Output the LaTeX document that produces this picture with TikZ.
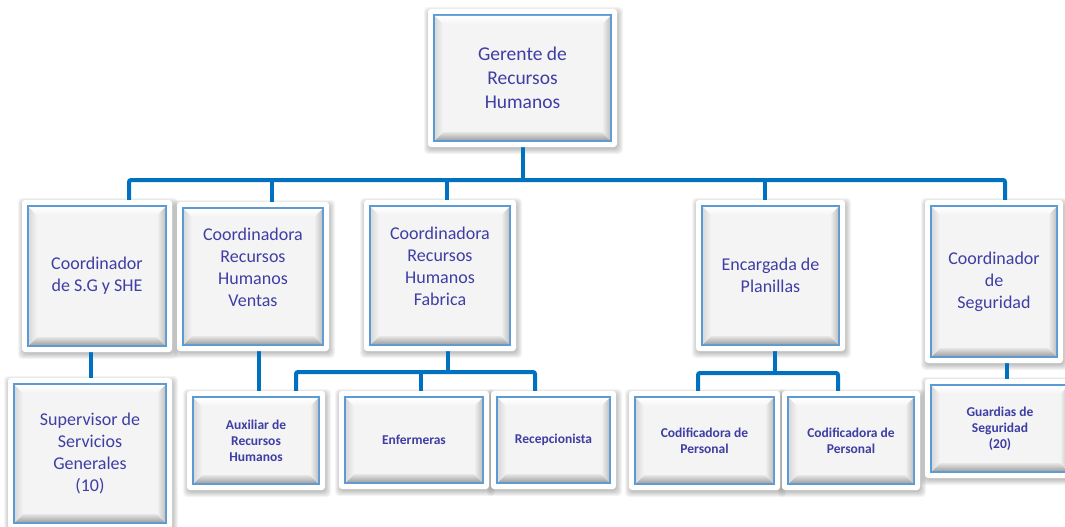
\documentclass[tikz,border=0pt]{standalone}
\usepackage{fontspec}
\setmainfont{Carlito}
\usetikzlibrary{backgrounds}

\definecolor{linkblue}{HTML}{0070C0}
\definecolor{edgeblue}{HTML}{5B9BD5}
\definecolor{cardfill}{HTML}{F4F4F4}
\definecolor{txtblue}{RGB}{62,62,165}
\definecolor{bevlight}{HTML}{E6E6E6}
\definecolor{bevdark}{HTML}{A2A2A2}
\definecolor{bevside}{HTML}{C2C2C2}
\definecolor{bevleft}{HTML}{DADADA}

\pgfdeclarelayer{shade}
\pgfdeclarelayer{links}
\pgfdeclarelayer{frames}
\pgfsetlayers{shade,links,frames,main}

\tikzset{
  conn/.style={draw=linkblue, line width=4pt, rounded corners=2pt},
  softshadow/.style={fill=black, opacity=0.045, rounded corners=4pt},
  cardframe/.style={fill=white, rounded corners=3pt},
  cardbox/.style={draw=edgeblue, line width=1.4pt, fill=cardfill,
      inner sep=0pt, outer sep=0pt},
  bigtxt/.style={text=txtblue, align=center, inner sep=0pt,
      font=\fontsize{19.5}{24}\selectfont},
  midtxt/.style={text=txtblue, align=center, inner sep=0pt,
      font=\fontsize{18}{22}\selectfont},
  smalltxt/.style={text=txtblue, align=center, inner sep=0pt,
      font=\bfseries\fontsize{13.5}{16}\selectfont},
}

% bevelled edge inside a card
\newcommand\bevelbox[1]{%
  \shade[top color=bevlight, bottom color=bevdark]
    ([shift={(1,-1)}]#1.south west) -- ([shift={(-1,-1)}]#1.south east)
    -- ([shift={(-9,-9)}]#1.south east) -- ([shift={(9,-9)}]#1.south west) -- cycle;
  \shade[left color=cardfill, right color=bevside]
    ([shift={(-1,-1)}]#1.south east) -- ([shift={(-1,1)}]#1.north east)
    -- ([shift={(-9,9)}]#1.north east) -- ([shift={(-9,-9)}]#1.south east) -- cycle;
  \shade[left color=bevleft, right color=cardfill]
    ([shift={(1,-1)}]#1.south west) -- ([shift={(1,1)}]#1.north west)
    -- ([shift={(9,9)}]#1.north west) -- ([shift={(9,-9)}]#1.south west) -- cycle;
  \shade[top color=white, bottom color=cardfill]
    ([shift={(1,1)}]#1.north west) -- ([shift={(-1,1)}]#1.north east)
    -- ([shift={(-9,9)}]#1.north east) -- ([shift={(9,9)}]#1.north west) -- cycle;
}

% card: name, cx, cy, width, height, text offset, text style, text
\newcommand\card[8]{%
  \begin{pgfonlayer}{shade}
    \foreach \s in {1,...,6}{%
      \fill[softshadow]
        ({#2-#4/2-6-\s+2},{#3-#5/2-6-\s+4}) rectangle ({#2+#4/2+6+\s},{#3+#5/2+6+\s+1});
    }
  \end{pgfonlayer}
  \begin{pgfonlayer}{frames}
    \fill[cardframe]
      ({#2-#4/2-6},{#3-#5/2-6}) rectangle ({#2+#4/2+6},{#3+#5/2+6});
  \end{pgfonlayer}
  \node[cardbox, minimum width=#4, minimum height=#5] (#1) at (#2,#3) {};
  \bevelbox{#1}
  \node[#7] (#1-t) at (#2,{#3+#6}) {#8};
}

\begin{document}
\begin{tikzpicture}[x=1pt,y=-1pt]
\useasboundingbox (0,0) rectangle (1065,527);

% top
\card{ger}{522.5}{78}{177}{126}{0}{bigtxt}{Gerente de\\Recursos\\Humanos}
% second row
\card{c1}{97}{276}{138}{140}{0}{midtxt}{Coordinador\\de S.G y SHE}
\card{c2}{253}{276.5}{140}{137}{-9}{midtxt}{Coordinadora\\Recursos\\Humanos\\Ventas}
\card{c3}{440}{275.5}{140}{139}{-9}{midtxt}{Coordinadora\\Recursos\\Humanos\\Fabrica}
\card{c4}{770.5}{275.5}{137}{139}{0}{midtxt}{Encargada de\\Planillas}
\card{c5}{994}{281.5}{126}{151}{0}{midtxt}{Coordinador\\de\\Seguridad}
% third row
\card{sup}{90}{453.5}{152}{139}{0}{midtxt}{Supervisor de\\Servicios\\Generales\\(10)}
\card{aux}{256}{440.5}{126}{87}{0}{smalltxt}{Auxiliar de\\Recursos\\Humanos}
\card{enf}{414}{440}{138}{86}{0}{smalltxt}{Enfermeras}
\card{rec}{553.5}{440}{113}{86}{0}{smalltxt}{Recepcionista}
\card{cod1}{704.5}{440.5}{139}{87}{0}{smalltxt}{Codificadora de\\Personal}
\card{cod2}{851}{440.5}{126}{87}{0}{smalltxt}{Codificadora de\\Personal}
\card{gua}{1000}{428.5}{138}{87}{0}{smalltxt}{Guardias de\\Seguridad\\(20)}

\begin{pgfonlayer}{links}
  % main bus
  \coordinate (b1) at (129,180);
  \coordinate (b2) at (272,180);
  \coordinate (b3) at (447,180);
  \coordinate (b4) at (765,180);
  \coordinate (b5) at (1005,180);
  \draw[conn] (ger.south) -- (ger.south |- b1);
  \draw[conn] (c1.north -| b1) -- (b1) -- (b5) -- (c5.north -| b5);
  \draw[conn] (b2) -- (c2.north -| b2);
  \draw[conn] (b3) -- (c3.north -| b3);
  \draw[conn] (b4) -- (c4.north -| b4);
  % single drops
  \coordinate (k1) at (91,365);
  \coordinate (k2) at (259,365);
  \coordinate (k5) at (1007,370);
  \draw[conn] (c1.south -| k1) -- (sup.north -| k1);
  \draw[conn] (c2.south -| k2) -- (aux.north -| k2);
  \draw[conn] (c5.south -| k5) -- (gua.north -| k5);
  % factory branch
  \coordinate (m3) at (448,372);
  \coordinate (m3a) at (296,372);
  \coordinate (m3b) at (421,372);
  \coordinate (m3c) at (535,372);
  \draw[conn] (c3.south -| m3) -- (m3);
  \draw[conn] (aux.north -| m3a) -- (m3a) -- (m3c) -- (rec.north -| m3c);
  \draw[conn] (m3b) -- (enf.north -| m3b);
  % payroll branch
  \coordinate (m4) at (775,373);
  \coordinate (m4a) at (698,373);
  \coordinate (m4b) at (838,373);
  \draw[conn] (c4.south -| m4) -- (m4);
  \draw[conn] (cod1.north -| m4a) -- (m4a) -- (m4b) -- (cod2.north -| m4b);
\end{pgfonlayer}
\end{tikzpicture}
\end{document}
